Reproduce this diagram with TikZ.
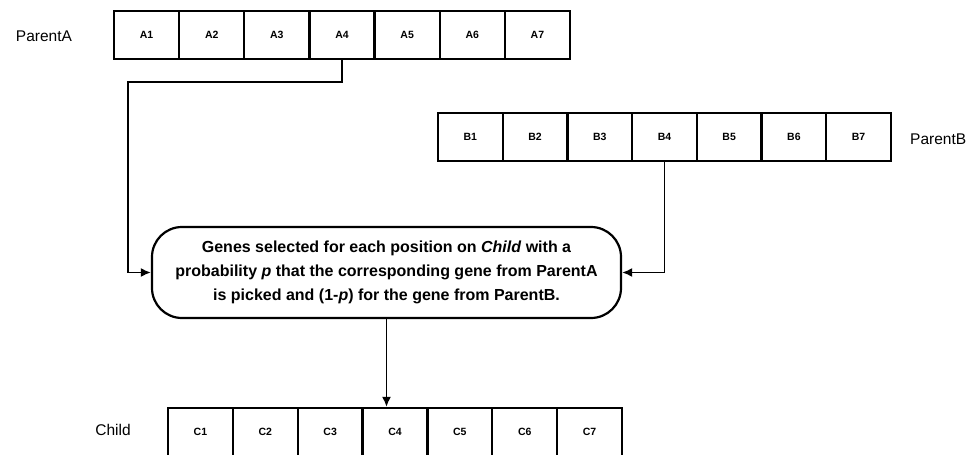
\documentclass[tikz,border=0pt]{standalone}
\usepackage{fontspec}
\setmainfont{Liberation Sans}
\usetikzlibrary{arrows.meta}
\begin{document}
\begin{tikzpicture}[x=1pt,y=-1pt,
  cell/.style={draw,line width=2.2pt,inner sep=0pt,minimum height=48pt,font=\fontsize{10.5}{12}\selectfont\bfseries},
  lbl/.style={inner sep=0pt,font=\fontsize{15.5}{18}\selectfont},
  conn/.style={line width=1.8pt,-{Latex[length=10pt,width=9pt]}},
  textbox/.style={draw,line width=2.2pt,rounded corners=30pt,minimum width=469pt,minimum height=91pt,align=center,inner sep=0pt,font=\fontsize{16}{24}\selectfont\bfseries}]
\useasboundingbox (0,0) rectangle (975,455);
\clip (0,0) rectangle (975,455);
% Parent A
\foreach \i in {1,...,7}{
  \node[cell,minimum width=65.14pt] (a\i) at ({114+(\i-0.5)*65.14},35) {A\i};
}
\node[lbl] (pa) at (44,36) {ParentA};
% Parent B
\foreach \i in {1,...,7}{
  \node[cell,minimum width=64.71pt] (b\i) at ({438+(\i-0.5)*64.71},137) {B\i};
}
\node[lbl,anchor=west] (pb) at (910,139) {ParentB};
% Child
\foreach \i in {1,...,7}{
  \node[cell,minimum width=64.86pt] (c\i) at ({168+(\i-0.5)*64.86},432) {C\i};
}
\node[lbl] (ch) at (113,430) {Child};
% Box
\node[textbox] (box) at (386.5,272.5) {Genes selected for each position on \textit{Child} with a\\
probability \textit{p} that the corresponding gene from ParentA\\
is picked and (1-\textit{p}) for the gene from ParentB.};
% connectors
\coordinate (ka) at (128,82);
\draw[conn] (a4.south) |- (ka) |- (box.west);
\draw[conn] (b4.south) |- (box.east);
\draw[conn] (box.south) -- (box.south |- c4.north);
\end{tikzpicture}
\end{document}
